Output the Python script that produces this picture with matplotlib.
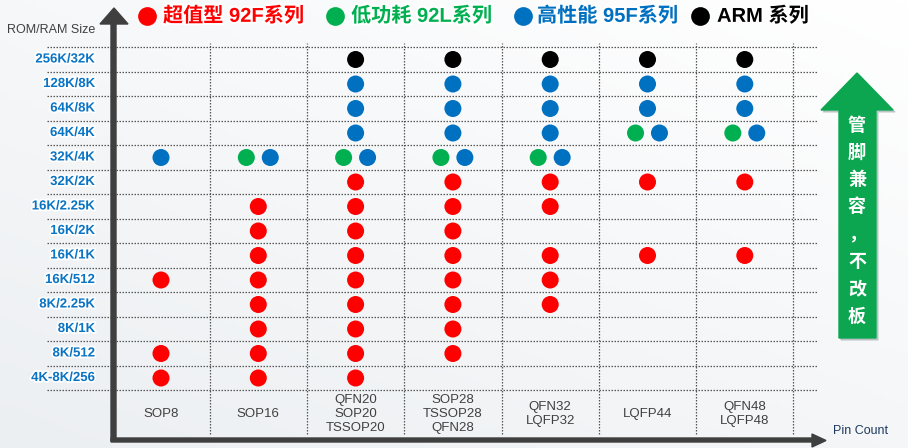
import numpy as np
import matplotlib
matplotlib.use("Agg")
import matplotlib.pyplot as plt
from matplotlib.patches import Polygon
from matplotlib.lines import Line2D
import matplotlib.patheffects as pe

plt.rcParams['font.family'] = ['Liberation Sans', 'Noto Sans CJK SC', 'DejaVu Sans']

W, H = 908, 448

# --- data ---
sizes = ["4K-8K/256", "8K/512", "8K/1K", "8K/2.25K", "16K/512", "16K/1K", "16K/2K",
         "16K/2.25K", "32K/2K", "32K/4K", "64K/4K", "64K/8K", "128K/8K", "256K/32K"]
packages = ["SOP8", "SOP16", "QFN20\nSOP20\nTSSOP20", "SOP28\nTSSOP28\nQFN28",
            "QFN32\nLQFP32", "LQFP44", "QFN48\nLQFP48"]
series_codes = ["R", "G", "B", "A"]
series_names = ["超值型 92F系列", "低功耗 92L系列", "高性能 95F系列", "ARM 系列"]
series_colors = ["#FF0000", "#00B050", "#0070C0", "#000000"]

# availability per size (bottom -> top), one entry per package
grid = [
    ["R", "R", "R", "", "", "", ""],              # 4K-8K/256
    ["R", "R", "R", "R", "", "", ""],             # 8K/512
    ["", "R", "R", "R", "", "", ""],              # 8K/1K
    ["", "R", "R", "R", "R", "", ""],             # 8K/2.25K
    ["R", "R", "R", "R", "R", "", ""],            # 16K/512
    ["", "R", "R", "R", "R", "R", "R"],           # 16K/1K
    ["", "R", "R", "R", "", "", ""],              # 16K/2K
    ["", "R", "R", "R", "R", "", ""],             # 16K/2.25K
    ["", "", "R", "R", "R", "R", "R"],            # 32K/2K
    ["B", "GB", "GB", "GB", "GB", "", ""],        # 32K/4K
    ["", "", "B", "B", "B", "GB", "GB"],          # 64K/4K
    ["", "", "B", "B", "B", "B", "B"],            # 64K/8K
    ["", "", "B", "B", "B", "B", "B"],            # 128K/8K
    ["", "", "A", "A", "A", "A", "A"],            # 256K/32K
]

arrow_text = ["管", "脚", "兼", "容", "，", "不", "改", "板"]


def fpx(x, y):
    return (x / W, 1 - y / H)


fig = plt.figure(figsize=(W / 100, H / 100), dpi=100)

# background gradient
bg = fig.add_axes([0, 0, 1, 1], zorder=-5)
gx, gy = np.meshgrid(np.linspace(0, 1, 200), np.linspace(0, 1, 100))
shade = 0.55 * gy + 0.45 * (1 - gx)
bg.imshow(shade, cmap=matplotlib.colors.LinearSegmentedColormap.from_list(
    "bgc", ["#FFFFFF", "#ECEFF2"]), aspect="auto", extent=[0, 1, 0, 1], origin="upper")
bg.axis("off")

# main grid axes (pixel box 47..818 x 40..445)
ax = fig.add_axes([47 / W, 1 - 445 / H, 771 / W, 405 / H])
ax.set_facecolor("none")
ax.set_xlim((47 - 161) / 97.3, (818 - 161) / 97.3)
ax.set_ylim((378 - 445) / 24.5, (378 - 40) / 24.5)
ax.axis("off")

grid_kw = dict(color="#555555", lw=0.9, linestyle=(0, (1.2, 1.2)), zorder=1)
ax.hlines(np.arange(len(sizes) + 1) - 0.5, (47 - 161) / 97.3, (818 - 161) / 97.3, **grid_kw)
ax.vlines(np.arange(len(packages)) + 0.5, (378 - 434) / 24.5, (378 - 43) / 24.5, **grid_kw)

pair_off = 0.123
for code, color in zip(series_codes, series_colors):
    xs, ys = [], []
    for i, row in enumerate(grid):
        for j, cell in enumerate(row):
            if code in cell:
                k = cell.index(code)
                off = 0 if len(cell) == 1 else (k - (len(cell) - 1) / 2) * 2 * pair_off
                xs.append(j + off)
                ys.append(i)
    ax.scatter(xs, ys, s=150, color=color, edgecolors="none", zorder=3)

white_edge = [pe.withStroke(linewidth=2.5, foreground="white")]
for i, s in enumerate(sizes):
    ax.text((95 - 161) / 97.3, i, s, ha="right", va="center", fontsize=9.5,
            fontweight="bold", color="#0A74C4", path_effects=white_edge, zorder=4)
for j, p in enumerate(packages):
    ax.text(j, (378 - 414) / 24.5, p, ha="center", va="center", fontsize=9.5,
            color="#404040", linespacing=1.25, zorder=4)

# axis arrows
arrow_c = "#3F3F3F"
y_arrow = [(111, 441), (116, 441), (116, 24), (128, 24), (114, 8), (100, 24), (111, 24)]
x_arrow = [(111, 438), (812, 438), (812, 434), (826, 440.5), (812, 447), (812, 442), (111, 442)]
for pts in (y_arrow, x_arrow):
    fig.add_artist(Polygon([fpx(*p) for p in pts], closed=True, color=arrow_c,
                           transform=fig.transFigure, zorder=6))

fig.text(*fpx(7, 30), "ROM/RAM Size", fontsize=9, color="#404040", ha="left", va="center")
fig.text(*fpx(833, 431), "Pin Count", fontsize=9, color="#1F3A5F", ha="left", va="center")

# legend
leg_dot_x = [147, 335, 523, 700]
leg_txt_x = [163, 351, 537, 717]
for dx, tx, name, color in zip(leg_dot_x, leg_txt_x, series_names, series_colors):
    fig.add_artist(Line2D([fpx(dx, 16)[0]], [fpx(dx, 16)[1]], marker="o", ms=13.5,
                          color=color, mec="none", transform=fig.transFigure))
    fig.text(*fpx(tx, 16), name, fontsize=14.5, fontweight="bold", color=color,
             ha="left", va="center",
             path_effects=[pe.withStroke(linewidth=3, foreground="white")])

# green compatibility arrow
g_arrow = [(839, 338), (876, 338), (876, 110), (893, 110), (857, 73), (821, 110), (839, 110)]
fig.add_artist(Polygon([fpx(x + 2, y + 2) for x, y in g_arrow], closed=True, color="#9AA0A6",
                       alpha=0.45, transform=fig.transFigure, zorder=6))
fig.add_artist(Polygon([fpx(*p) for p in g_arrow], closed=True, color="#0BA64F",
                       transform=fig.transFigure, zorder=7))
for k, ch in enumerate(arrow_text):
    fig.text(*fpx(857, 125 + k * 27.3), ch, fontsize=13, fontweight="bold", color="white",
             ha="center", va="center", family=["Noto Sans CJK SC"], zorder=8)

fig.savefig("out.png", dpi=100)
